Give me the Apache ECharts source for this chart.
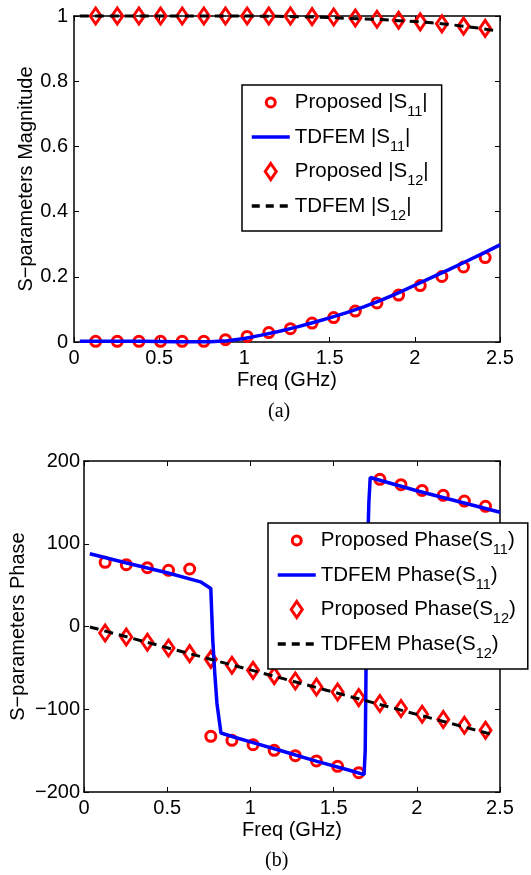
<!DOCTYPE html>
<html><head><meta charset="utf-8">
<script src="https://cdn.jsdelivr.net/npm/echarts@6/dist/echarts.min.js"></script>
<style>html,body{margin:0;padding:0;background:#fff}#c{width:531px;height:875px}</style>
</head><body><div id="c"></div><script>
// ---------- data ----------
const freqMarkers = [0.127,0.254,0.381,0.508,0.635,0.762,0.889,1.016,1.143,1.270,1.397,1.524,1.651,1.778,1.905,2.032,2.159,2.286,2.413];

// (a) magnitude
const magS11Prop = [0.002,0.002,0.002,0.002,0.002,0.002,0.007,0.017,0.029,0.041,0.058,0.075,0.095,0.120,0.144,0.173,0.201,0.230,0.259];
const magS11LineF = [0.034,0.2,0.4,0.6,0.8,0.9,1.0,1.1,1.2,1.3,1.4,1.5,1.6,1.7,1.8,1.9,2.0,2.1,2.2,2.3,2.4,2.5];
const magS11Line  = [0.002,0.002,0.002,0.001,0.001,0.004,0.011,0.021,0.032,0.045,0.059,0.074,0.090,0.108,0.128,0.150,0.174,0.198,0.222,0.247,0.272,0.298];
const magS12Prop = [1,1,1,1,1,1,1,1,1,1,0.998,0.997,0.994,0.990,0.987,0.982,0.976,0.969,0.962];
const magS12LineF = [0.034,0.5,1.0,1.2,1.4,1.6,1.8,2.0,2.1,2.2,2.3,2.4,2.47];
const magS12Line  = [1,1,1,0.999,0.997,0.993,0.989,0.983,0.979,0.974,0.968,0.961,0.955];

// (b) phase
const phS11Prop = [77.5,74.7,71.1,67.9,69.5,-132.7,-137.6,-142.8,-149.6,-156.1,-162.5,-169,-176.6,177.8,171.4,164.5,158.5,151.6,145.2];
const phS11LineF = [0.035,0.25,0.5,0.7,0.762,0.774,0.786,0.799,0.823,0.9,1.0,1.2,1.4,1.6,1.683,1.69,1.695,1.705,1.712,1.72,2.0,2.25,2.5];
const phS11Line  = [88,77,65,54,46,-17,-57,-93,-128.7,-133.5,-139.5,-151,-163,-174,-179,-150,-50,100,150,180,164,151,138];
const phS12Prop = [-7.9,-12.7,-19.1,-26,-32.8,-39.7,-46.9,-53,-59.4,-65.9,-73.1,-79.1,-85.9,-93.1,-99.1,-106,-112.4,-119.3,-125.4];
const phS12LineF = [0.035,0.5,1.0,1.5,2.0,2.449];
const phS12Line  = [-0.6,-25.6,-52.4,-79.3,-106.2,-130.3];

// axes
const xTicks = [0, 2.5, 0.5];          // min, max, interval
const magTicks = [0, 1, 0.2];
const phTicks = [-200, 200, 100];

// names
const namesA = ['Proposed |S11|','TDFEM |S11|','Proposed |S12|','TDFEM |S12|'];
const namesB = ['Proposed Phase(S11)','TDFEM Phase(S11)','Proposed Phase(S12)','TDFEM Phase(S12)'];
const richNames = {
  'Proposed |S11|': '{n|Proposed |S}{s|11}{n||}',
  'TDFEM |S11|': '{n|TDFEM |S}{s|11}{n||}',
  'Proposed |S12|': '{n|Proposed |S}{s|12}{n||}',
  'TDFEM |S12|': '{n|TDFEM |S}{s|12}{n||}',
  'Proposed Phase(S11)': '{n|Proposed Phase(S}{s|11}{n|)}',
  'TDFEM Phase(S11)': '{n|TDFEM Phase(S}{s|11}{n|)}',
  'Proposed Phase(S12)': '{n|Proposed Phase(S}{s|12}{n|)}',
  'TDFEM Phase(S12)': '{n|TDFEM Phase(S}{s|12}{n|)}'
};

// ---------- styling ----------
const FONT = '"Liberation Sans", Arial, Helvetica, sans-serif';
const FS = 20;
const RED = '#ff0000', BLUE = '#0000ff', BLACK = '#000000';
const CIRCLE_ICON = 'path://M0,-8L0,-8M0,8L0,8M-4.5,0A4.5,4.5,0,1,0,4.5,0A4.5,4.5,0,1,0,-4.5,0Z';
const DIAMOND_ICON = 'path://M0,-8L5.5,0L0,8L-5.5,0Z';
const pairs = (xs, ys) => xs.map((x, i) => [x, ys[i]]);
const minus = v => String(v).replace('-', '\u2212');

function xAxes(gi, name) {
  const base = {gridIndex: gi, type: 'value', min: xTicks[0], max: xTicks[1], interval: xTicks[2],
    splitLine: {show: false},
    axisLine: {show: true, onZero: false, lineStyle: {color: BLACK, width: 1.5}},
    axisTick: {show: true, inside: true, length: 5, lineStyle: {color: BLACK, width: 1}}};
  return [
    Object.assign({}, base, {position: 'bottom',
      axisLabel: {color: BLACK, fontSize: FS, fontFamily: FONT, margin: 6},
      name: name, nameLocation: 'middle', nameGap: 28, nameMoveOverlap: false,
      nameTextStyle: {color: BLACK, fontSize: FS, fontFamily: FONT}}),
    Object.assign({}, base, {position: 'top', axisLabel: {show: false}})
  ];
}
function yAxes(gi, t, name, gap, margin, fmt) {
  const base = {gridIndex: gi, type: 'value', min: t[0], max: t[1], interval: t[2],
    splitLine: {show: false},
    axisLine: {show: true, onZero: false, lineStyle: {color: BLACK, width: 1.5}},
    axisTick: {show: true, inside: true, length: 5, lineStyle: {color: BLACK, width: 1}}};
  return [
    Object.assign({}, base, {position: 'left',
      axisLabel: {color: BLACK, fontSize: FS, fontFamily: FONT, margin: margin, formatter: fmt},
      name: name, nameLocation: 'middle', nameGap: gap, nameRotate: 90, nameMoveOverlap: false,
      nameTextStyle: {color: BLACK, fontSize: FS, fontFamily: FONT}}),
    Object.assign({}, base, {position: 'right', axisLabel: {show: false}})
  ];
}

const hiddenMark = {color: 'rgba(0,0,0,0)', borderColor: 'rgba(0,0,0,0)', borderWidth: 0, opacity: 0};

function legend(names, left, top, padding) {
  return {
    orient: 'vertical', left: left, top: top, padding: padding,
    itemGap: 7, itemWidth: 38, itemHeight: 16,
    borderColor: BLACK, borderWidth: 1.5, borderRadius: 0, backgroundColor: '#fff',
    selectedMode: false,
    formatter: n => richNames[n],
    textStyle: {fontFamily: FONT, fontSize: 20.5, color: BLACK,
      rich: {
        n: {fontFamily: FONT, fontSize: 20.5, color: BLACK, lineHeight: 34},
        s: {fontFamily: FONT, fontSize: 14.5, color: BLACK, lineHeight: 14, verticalAlign: 'bottom'}
      }},
    data: [
      {name: names[0], icon: CIRCLE_ICON, itemStyle: {color: 'rgba(0,0,0,0)', borderColor: RED, borderWidth: 3, opacity: 1}},
      {name: names[1], lineStyle: {color: BLUE, width: 3.5, type: 'solid'}, itemStyle: hiddenMark},
      {name: names[2], icon: DIAMOND_ICON, itemStyle: {color: 'rgba(0,0,0,0)', borderColor: RED, borderWidth: 3, opacity: 1}},
      {name: names[3], lineStyle: {color: BLACK, width: 3.5, type: [8, 6]}, itemStyle: hiddenMark}
    ]
  };
}

function seriesSet(names, xi, yi, p11, l11f, l11, p12, l12f, l12) {
  return [
    {name: names[0], type: 'scatter', xAxisIndex: xi, yAxisIndex: yi, data: pairs(freqMarkers, p11),
      symbol: 'circle', symbolSize: 10, clip: false,
      itemStyle: {color: 'rgba(0,0,0,0)', borderColor: RED, borderWidth: 3, opacity: 1}},
    {name: names[1], type: 'line', xAxisIndex: xi, yAxisIndex: yi, data: pairs(l11f, l11),
      symbol: 'none', showSymbol: false, clip: false,
      lineStyle: {color: BLUE, width: 3.5}, itemStyle: {color: BLUE}},
    {name: names[2], type: 'scatter', xAxisIndex: xi, yAxisIndex: yi, data: pairs(freqMarkers, p12),
      symbol: 'diamond', symbolSize: [11, 16], clip: false,
      itemStyle: {color: 'rgba(0,0,0,0)', borderColor: RED, borderWidth: 3, opacity: 1}},
    {name: names[3], type: 'line', xAxisIndex: xi, yAxisIndex: yi, data: pairs(l12f, l12),
      symbol: 'none', showSymbol: false, clip: false,
      lineStyle: {color: BLACK, width: 3, type: [9, 6]}, itemStyle: {color: BLACK}}
  ];
}

const chart = echarts.init(document.getElementById('c'), null, {renderer: 'canvas'});
chart.setOption({
  animation: false,
  backgroundColor: '#fff',
  title: [
    {text: '(a)', left: 268, top: 402, padding: 0,
      textStyle: {fontFamily: '"Liberation Serif", "Times New Roman", serif', fontSize: 20, fontWeight: 'normal', color: BLACK}},
    {text: '(b)', left: 265, top: 851, padding: 0,
      textStyle: {fontFamily: '"Liberation Serif", "Times New Roman", serif', fontSize: 20, fontWeight: 'normal', color: BLACK}}
  ],
  grid: [
    {left: 74, top: 16, width: 426, height: 326, containLabel: false},
    {left: 84, top: 461, width: 416, height: 331, containLabel: false}
  ],
  xAxis: [].concat(xAxes(0, 'Freq (GHz)'), xAxes(1, 'Freq (GHz)')),
  yAxis: [].concat(
    yAxes(0, magTicks, 'S\u2212parameters Magnitude', 38, 6, v => String(v)),
    yAxes(1, phTicks, 'S\u2212parameters Phase', 56, 4, minus)),
  legend: [
    legend(namesA, 242, 85, [7, 13, 8, 8]),
    legend(namesB, 268, 523, [7, 12, 8, 8])
  ],
  series: [].concat(
    seriesSet(namesA, 0, 0, magS11Prop, magS11LineF, magS11Line, magS12Prop, magS12LineF, magS12Line),
    seriesSet(namesB, 2, 2, phS11Prop, phS11LineF, phS11Line, phS12Prop, phS12LineF, phS12Line))
});
</script></body></html>
